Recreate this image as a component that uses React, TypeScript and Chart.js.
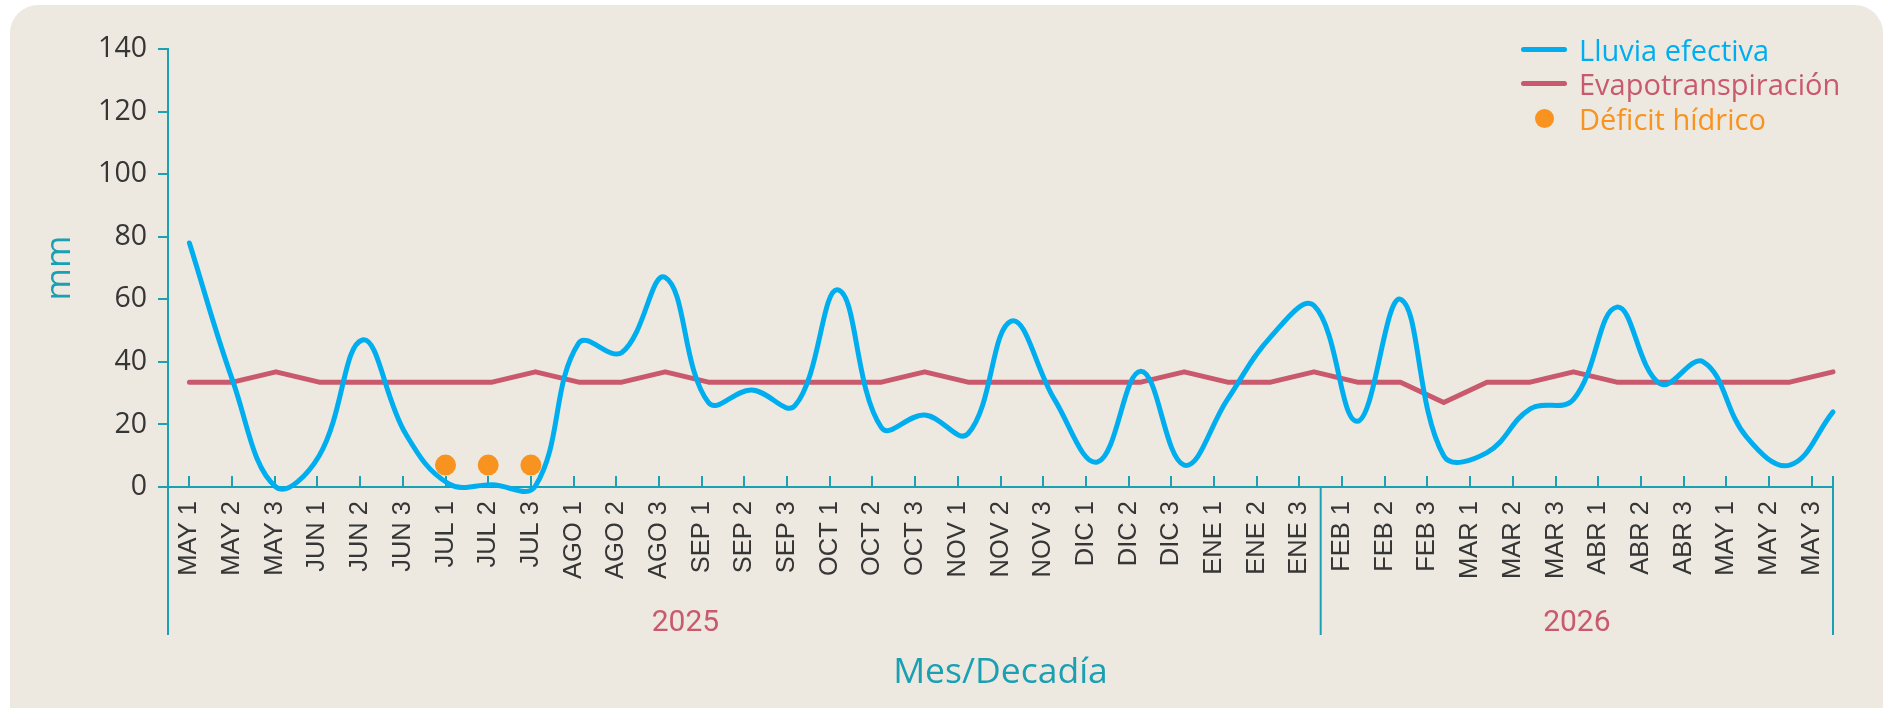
import React, { useEffect, useRef } from 'react';
import { Chart, registerables } from 'chart.js';

Chart.register(...registerables);

// ---------- DATA ----------
const CATEGORIES = [
  'MAY 1', 'MAY 2', 'MAY 3', 'JUN 1', 'JUN 2', 'JUN 3', 'JUL 1', 'JUL 2', 'JUL 3',
  'AGO 1', 'AGO 2', 'AGO 3', 'SEP 1', 'SEP 2', 'SEP 3', 'OCT 1', 'OCT 2', 'OCT 3',
  'NOV 1', 'NOV 2', 'NOV 3', 'DIC 1', 'DIC 2', 'DIC 3', 'ENE 1', 'ENE 2', 'ENE 3',
  'FEB 1', 'FEB 2', 'FEB 3', 'MAR 1', 'MAR 2', 'MAR 3', 'ABR 1', 'ABR 2', 'ABR 3',
  'MAY 1', 'MAY 2', 'MAY 3',
];

const LLUVIA_EFECTIVA = [
  78, 34, 0, 10, 47, 17, 1, 0.7, 0.3,
  46, 43, 67, 27, 31, 26, 63, 19, 23,
  17, 53, 28, 8, 37, 7, 28, 48, 58,
  21, 60, 10, 11, 25, 28, 57.5, 33, 40,
  16, 7, 24,
];

const EVAPOTRANSPIRACION = [
  33.5, 33.5, 36.8, 33.5, 33.5, 33.5, 33.5, 33.5, 36.8,
  33.5, 33.5, 36.8, 33.5, 33.5, 33.5, 33.5, 33.5, 36.8,
  33.5, 33.5, 33.5, 33.5, 33.5, 36.8, 33.5, 33.5, 36.8,
  33.5, 33.5, 27, 33.5, 33.5, 36.8, 33.5, 33.5, 33.5,
  33.5, 33.5, 36.8,
];

const DEFICIT_CATEGORIES = ['JUL 1', 'JUL 2', 'JUL 3'];
const DEFICIT_VALUES = [7, 7, 7];

const Y_MIN = 0;
const Y_MAX = 140;
const Y_STEP = 20;

const YEARS = ['2025', '2026'];
const YEAR_COUNTS = [27, 12];

// ---------- STYLE ----------
const BLUE = '#00AEEF';
const ROSE = '#C9596C';
const ORANGE = '#F7931E';
const TEAL = '#1BA1B5';
const TEAL_TEXT = '#1A9FB3';
const DARK = '#363636';
const CARD = '#EDE9E1';

const W = 1887;
const H = 708;
const AREA_LEFT = 168;
const AREA_TOP = 49;
const AREA_RIGHT = 1833;
const AREA_BOTTOM = 487;
const DECOR_BOTTOM = 635;
const YEAR_LABEL_ANCHORS = [11.62, 32.5];

const decorPlugin = {
  id: 'decor',
  afterDraw(chart: any) {
    const { ctx, chartArea } = chart;
    const xs = chart.scales.x;
    ctx.save();
    ctx.strokeStyle = TEAL;
    ctx.lineWidth = 2;
    const seg = (x1: number, y1: number, x2: number, y2: number) => {
      ctx.beginPath();
      ctx.moveTo(x1, y1);
      ctx.lineTo(x2, y2);
      ctx.stroke();
    };
    seg(chartArea.left, chartArea.bottom, chartArea.left, DECOR_BOTTOM);
    let start = 0;
    YEAR_COUNTS.forEach((count, gi) => {
      const end = start + count - 1;
      if (gi === YEAR_COUNTS.length - 1) {
        seg(chartArea.right, chartArea.bottom - 11, chartArea.right, DECOR_BOTTOM);
      } else {
        const px = (xs.getPixelForValue(end) + xs.getPixelForValue(end + 1)) / 2;
        seg(px, chartArea.bottom, px, DECOR_BOTTOM);
      }
      start += count;
    });
    ctx.fillStyle = ROSE;
    ctx.font = '30px Roboto';
    ctx.textAlign = 'center';
    ctx.textBaseline = 'alphabetic';
    YEARS.forEach((yr, gi) => {
      ctx.fillText(yr, xs.getPixelForValue(YEAR_LABEL_ANCHORS[gi]), 631);
    });
    ctx.restore();
  },
};

function ChartCanvas() {
  const ref = useRef<HTMLCanvasElement>(null);
  useEffect(() => {
    if (!ref.current) return;
    const chart = new Chart(ref.current, {
      type: 'line',
      data: {
        labels: CATEGORIES,
        datasets: [
          {
            label: 'Lluvia efectiva',
            data: LLUVIA_EFECTIVA.map((v, i) => ({ x: i, y: v })),
            xAxisID: 'xl',
            borderColor: BLUE,
            backgroundColor: BLUE,
            borderWidth: 5,
            pointRadius: 0,
            tension: 0.4,
            fill: false,
            clip: false,
            borderCapStyle: 'round',
            borderJoinStyle: 'round',
          },
          {
            label: 'Evapotranspiración',
            data: EVAPOTRANSPIRACION.map((v, i) => ({ x: i, y: v })),
            xAxisID: 'xl',
            borderColor: ROSE,
            backgroundColor: ROSE,
            borderWidth: 5,
            pointRadius: 0,
            tension: 0,
            fill: false,
            clip: false,
            borderCapStyle: 'round',
            borderJoinStyle: 'round',
          },
          {
            label: 'Déficit hídrico',
            data: DEFICIT_CATEGORIES.map((c, i) => ({ x: c, y: DEFICIT_VALUES[i] })),
            xAxisID: 'x',
            showLine: false,
            pointRadius: 10.5,
            pointBackgroundColor: ORANGE,
            pointBorderColor: ORANGE,
            pointBorderWidth: 0,
            borderColor: ORANGE,
            backgroundColor: ORANGE,
            clip: false,
          },
        ],
      } as any,
      options: {
        animation: false,
        responsive: false,
        maintainAspectRatio: false,
        events: [],
        layout: {
          padding: { left: 0, top: AREA_TOP, right: W - AREA_RIGHT, bottom: 0 },
        },
        elements: { line: { capBezierPoints: false } },
        plugins: {
          legend: { display: false },
          tooltip: { enabled: false },
        },
        scales: {
          x: {
            type: 'category',
            position: 'bottom',
            offset: true,
            grid: {
              display: true,
              drawOnChartArea: false,
              drawTicks: true,
              tickLength: -11,
              color: TEAL,
              lineWidth: 2,
            },
            border: { display: true, color: TEAL, width: 2 },
            ticks: {
              autoSkip: false,
              minRotation: 90,
              maxRotation: 90,
              padding: 25,
              color: DARK,
              font: { family: '"Liberation Sans", Arial, sans-serif', size: 25.5 },
            },
            title: {
              display: true,
              text: 'Mes/Decadía',
              color: TEAL_TEXT,
              font: { family: '"Open Sans", sans-serif', size: 35.5 },
              padding: { top: 0, bottom: 14 },
            },
            afterFit: (s: any) => {
              s.height = H - AREA_BOTTOM;
            },
          },
          xl: {
            type: 'linear',
            axis: 'x',
            position: 'bottom',
            display: false,
            bounds: 'data',
            min: -0.495,
            max: LLUVIA_EFECTIVA.length - 1,
          },
          y: {
            type: 'linear',
            position: 'left',
            min: Y_MIN,
            max: Y_MAX,
            ticks: {
              stepSize: Y_STEP,
              padding: 11,
              color: DARK,
              font: { family: '"Open Sans", sans-serif', size: 28.5 },
            },
            grid: {
              display: true,
              drawOnChartArea: false,
              drawTicks: true,
              tickLength: 10,
              color: TEAL,
              lineWidth: 2,
            },
            border: { display: true, color: TEAL, width: 2 },
            title: {
              display: true,
              text: 'mm',
              color: TEAL_TEXT,
              font: { family: '"Open Sans", sans-serif', size: 35 },
              padding: { top: 39, bottom: 0 },
            },
            afterFit: (s: any) => {
              s.width = AREA_LEFT;
            },
          },
        },
      } as any,
      plugins: [decorPlugin],
    });
    return () => chart.destroy();
  }, []);
  return (
    <canvas
      ref={ref}
      width={W}
      height={H}
      style={{ position: 'absolute', left: 0, top: 0, width: W, height: H }}
    />
  );
}

const LEGEND = [
  { label: 'Lluvia efectiva', color: BLUE, kind: 'line', cy: 49 },
  { label: 'Evapotranspiración', color: ROSE, kind: 'line', cy: 83 },
  { label: 'Déficit hídrico', color: ORANGE, kind: 'dot', cy: 118 },
];

export default function App() {
  return (
    <div
      style={{
        position: 'fixed',
        left: 0,
        top: 0,
        width: W,
        height: H,
        overflow: 'hidden',
        background: '#ffffff',
      }}
    >
      <div
        style={{
          position: 'absolute',
          left: 10,
          top: 5,
          width: 1873,
          height: 760,
          borderRadius: 28,
          background: CARD,
        }}
      />
      <ChartCanvas />
      {LEGEND.map((item) => (
        <div
          key={item.label}
          style={{
            position: 'absolute',
            left: 1520,
            top: item.cy - 18,
            height: 36,
            display: 'flex',
            alignItems: 'center',
            fontFamily: '"Open Sans", sans-serif',
            fontSize: 29,
            color: item.color,
            whiteSpace: 'nowrap',
          }}
        >
          <div style={{ width: 48, display: 'flex', justifyContent: 'center', alignItems: 'center', marginRight: 11 }}>
            {item.kind === 'line' ? (
              <div style={{ width: 46, height: 5, borderRadius: 3, background: item.color }} />
            ) : (
              <div style={{ width: 19, height: 19, borderRadius: 10, background: item.color }} />
            )}
          </div>
          <span>{item.label}</span>
        </div>
      ))}
    </div>
  );
}
